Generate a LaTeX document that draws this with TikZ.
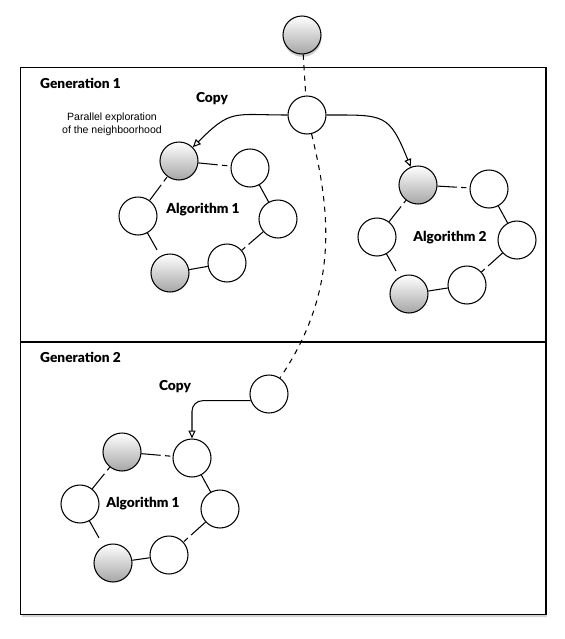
\documentclass[tikz,border=0pt]{standalone}
\usepackage{fontspec}
\setmainfont{Lato}[BoldFont={Lato Black}]
\newfontfamily\helvfont{Liberation Sans}
\usetikzlibrary{arrows.meta,shadows}

\begin{document}
\begin{tikzpicture}[font=\fontsize{7.8}{9}\selectfont\bfseries,
    cell/.style={circle, draw, fill=white, line width=0.6pt, minimum size=0.76cm, inner sep=0pt},
    seed/.style={cell, top color=white, bottom color=black!35},
    plainlink/.style={line width=0.6pt},
    gaplink/.style={line width=0.6pt, dash pattern=on 11pt off 2.5pt on 3pt off 40pt},
    cutlink/.style={line width=0.6pt, dash pattern=on 11pt off 40pt},
    copyarrow/.style={line width=0.6pt, -{Triangle[open, length=4.5pt, width=4pt]}}]
  \useasboundingbox (0,0) rectangle (11.30,-12.78);
  % Frame: one band per generation
  \draw[line width=0.6pt, fill=white, drop shadow={opacity=0.35, shadow xshift=0.8pt, shadow yshift=-1.4pt}]
    (0.41,-1.35) rectangle (10.92,-12.29);
  \draw[line width=0.6pt] (0.41,-6.84) -- (10.92,-6.84);
  % Starting solution (above the frame)
  \node[seed, drop shadow={opacity=0.4, shadow xshift=0.3pt, shadow yshift=-1.6pt}] (start) at (6.04,-0.70) {};
  % Generation 1: copy of the solution
  \node[anchor=west] (gen1) at (0.68,-1.66) {Generation 1};
  \node (copytext1) at (4.24,-1.98) {Copy};
  \node[cell] (copy1) at (6.14,-2.30) {};
  \node[font=\helvfont\fontsize{6}{7.4}\selectfont, align=center] (hint) at (2.24,-2.48)
    {Parallel exploration\\of the neighboorhood};
  % Generation 1: Algorithm 1 ring
  \node[seed] (ag) at (3.58,-3.22) {};
  \node[cell] (at) at (5.00,-3.36) {};
  \node[cell] (al) at (2.76,-4.32) {};
  \node[cell] (ar) at (5.56,-4.38) {};
  \node[cell] (abr) at (4.54,-5.26) {};
  \node[seed] (abl) at (3.40,-5.46) {};
  \node (alg1a) at (4.06,-4.20) {Algorithm 1};
  \draw[gaplink] (ag) -- (at);
  \draw[plainlink] (at) -- (ar);
  \draw[gaplink] (ar) -- (abr);
  \draw[plainlink] (abl) -- (abr);
  \draw[cutlink] (al) -- (abl);
  \draw[gaplink] (al) -- (ag);
  % Generation 1: Algorithm 2 ring
  \node[seed] (bg) at (8.36,-3.70) {};
  \node[cell] (bt) at (9.78,-3.78) {};
  \node[cell] (bl) at (7.54,-4.74) {};
  \node[cell] (br) at (10.34,-4.80) {};
  \node[cell] (bbr) at (9.34,-5.70) {};
  \node[seed] (bbl) at (8.18,-5.88) {};
  \node (alg2) at (9.00,-4.76) {Algorithm 2};
  \draw[gaplink] (bg) -- (bt);
  \draw[plainlink] (bt) -- (br);
  \draw[gaplink] (br) -- (bbr);
  \draw[plainlink] (bbl) -- (bbr);
  \draw[cutlink] (bl) -- (bbl);
  \draw[gaplink] (bl) -- (bg);
  % Generation 2: copy of the solution
  \node[anchor=west] (gen2) at (0.68,-7.14) {Generation 2};
  \node (copytext2) at (3.50,-7.74) {Copy};
  \node[cell] (copy2) at (5.38,-7.88) {};
  % Generation 2: Algorithm 1 ring
  \node[seed] (cg) at (2.44,-9.04) {};
  \node[cell] (ct) at (3.84,-9.16) {};
  \node[cell] (cl) at (1.60,-10.08) {};
  \node[cell] (cr) at (4.40,-10.18) {};
  \node[cell] (cbr) at (3.38,-11.10) {};
  \node[seed] (cbl) at (2.26,-11.26) {};
  \node (alg1b) at (2.86,-10.08) {Algorithm 1};
  \draw[gaplink] (cg) -- (ct);
  \draw[plainlink] (ct) -- (cr);
  \draw[gaplink] (cr) -- (cbr);
  \draw[plainlink] (cbl) -- (cbr);
  \draw[cutlink] (cl) -- (cbl);
  \draw[gaplink] (cl) -- (cg);
  % Lineage of the solution (dashed)
  \draw[dashed, line width=0.6pt] (start) -- (copy1);
  \draw[dashed, line width=0.6pt] (copy1) .. controls (6.60,-4.20) and (6.80,-5.80) .. (copy2);
  % Copies handed to the algorithms
  \draw[copyarrow] (copy1) to[out=180, in=45, looseness=1.4] (ag);
  \draw[copyarrow] (copy1) to[out=0, in=112, looseness=1.5] (bg);
  \draw[copyarrow, rounded corners=6pt] (copy2.200) -| (ct);
\end{tikzpicture}
\end{document}
